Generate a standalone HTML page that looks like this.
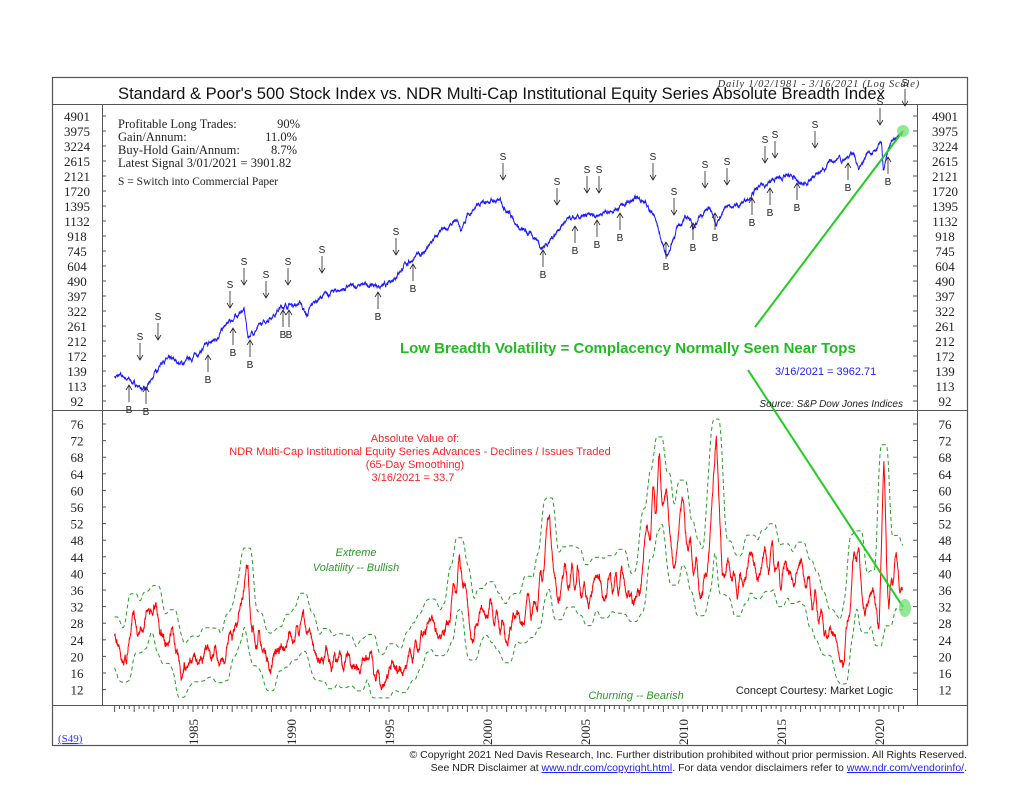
<!DOCTYPE html>
<html><head><meta charset="utf-8"><style>
body{margin:0;background:#fff;}
svg text{font-family:"Liberation Sans",sans-serif;}
svg text.sf,svg .sf text{font-family:"Liberation Serif",serif;}
</style></head><body>
<svg id="s" width="1024" height="791" xmlns="http://www.w3.org/2000/svg">
<rect x="52.5" y="77.5" width="915" height="668" fill="none" stroke="#555" stroke-width="1.2"/>
<line x1="52" y1="104.5" x2="968" y2="104.5" stroke="#555"/>
<line x1="102.5" y1="104" x2="102.5" y2="705" stroke="#555"/>
<line x1="917.5" y1="104" x2="917.5" y2="705" stroke="#555"/>
<line x1="52" y1="410.5" x2="968" y2="410.5" stroke="#555"/>
<line x1="52" y1="705.5" x2="968" y2="705.5" stroke="#555"/>
<text x="118" y="99" font-size="16.6" fill="#111">Standard &amp; Poor's 500 Stock Index vs. NDR Multi-Cap Institutional Equity Series Absolute Breadth Index</text>
<text x="920" y="87" class="sf" font-size="10.5" font-style="italic" text-anchor="end" fill="#333" letter-spacing="0.8">Daily 1/02/1981 - 3/16/2021 (Log Scale)</text>
<g class="sf" font-size="12.5" fill="#222">
<text x="118" y="128">Profitable Long Trades:</text><text x="300" y="128" text-anchor="end">90%</text>
<text x="118" y="141">Gain/Annum:</text><text x="297" y="141" text-anchor="end">11.0%</text>
<text x="118" y="154">Buy-Hold Gain/Annum:</text><text x="297" y="154" text-anchor="end">8.7%</text>
<text x="118" y="167">Latest Signal 3/01/2021 = 3901.82</text>
<text x="118" y="185" font-size="11.5">S = Switch into Commercial Paper</text>
</g>
<g id="ax"></g>
<path id="spx" fill="none" stroke="#1a1aff" stroke-width="1"/>
<path id="up" fill="none" stroke="#2a9a2a" stroke-width="1" stroke-dasharray="4,3"/>
<path id="lo" fill="none" stroke="#2a9a2a" stroke-width="1" stroke-dasharray="4,3"/>
<path id="br" fill="none" stroke="#f00" stroke-width="1"/>
<g id="sig" font-size="10" fill="#222"></g>
<line x1="755" y1="327" x2="903" y2="131" stroke="#22cc22" stroke-width="2"/>
<line x1="748" y1="370" x2="903" y2="607" stroke="#22cc22" stroke-width="2"/>
<circle cx="903" cy="131" r="6" fill="#66dd66" opacity="0.7"/>
<ellipse cx="905" cy="608" rx="6" ry="9" fill="#66dd66" opacity="0.7"/>
<text x="400" y="353" font-size="15" font-weight="bold" fill="#22bb22">Low Breadth Volatility = Complacency Normally Seen Near Tops</text>
<text x="775" y="375" font-size="11" fill="#2222ee">3/16/2021 =  3962.71</text>
<text x="903" y="407" font-size="10" font-style="italic" text-anchor="end" fill="#222">Source: S&amp;P Dow Jones Indices</text>
<g font-size="11" fill="#f22" text-anchor="middle">
<text x="415" y="442">Absolute Value of:</text>
<text x="420" y="455">NDR Multi-Cap Institutional Equity Series Advances - Declines / Issues Traded</text>
<text x="415" y="468">(65-Day Smoothing)</text>
<text x="413" y="481">3/16/2021 = 33.7</text>
</g>
<g font-size="11" font-style="italic" fill="#2a9a2a" text-anchor="middle">
<text x="356" y="556">Extreme</text><text x="356" y="571">Volatility -- Bullish</text>
<text x="636" y="699">Churning -- Bearish</text>
</g>
<text x="893" y="694" font-size="11" text-anchor="end" fill="#222">Concept Courtesy: Market Logic</text>
<text x="58" y="742" class="sf" font-size="11" fill="#33f" text-decoration="underline">(S49)</text>
<g font-size="10.5" fill="#222" text-anchor="end">
<text x="967" y="758">© Copyright 2021 Ned Davis Research, Inc.  Further distribution prohibited without prior permission.  All Rights Reserved.</text>
<text x="967" y="771">See NDR Disclaimer at <tspan fill="#22f" text-decoration="underline">www.ndr.com/copyright.html</tspan>. For data vendor disclaimers refer to <tspan fill="#22f" text-decoration="underline">www.ndr.com/vendorinfo/</tspan>.</text>
</g>
</svg>
<script>
var NS="http://www.w3.org/2000/svg",ax=document.getElementById('ax');
function el(t,a,p,txt){var e=document.createElementNS(NS,t);for(var k in a)e.setAttribute(k,a[k]);if(txt!=null)e.textContent=txt;(p||ax).appendChild(e);return e;}
function X(y){return 114.6+(y-1981)*19.6;}
var L0=Math.log10(4901);
function YU(v){return 116+(L0-Math.log10(v))/0.0909*15;}
function YL(v){return 424+(76-v)*16.6/4;}
var labs=[4901,3975,3224,2615,2121,1720,1395,1132,918,745,604,490,397,322,261,212,172,139,113,92];
labs.forEach(function(v,i){var y=116+i*15;
el('text',{x:77,y:y+5,'font-size':13,'text-anchor':'middle','class':'sf',fill:'#222'},null,v);
el('text',{x:945,y:y+5,'font-size':13,'text-anchor':'middle','class':'sf',fill:'#222'},null,v);
el('line',{x1:102,y1:y,x2:106,y2:y,stroke:'#555'});el('line',{x1:913,y1:y,x2:917,y2:y,stroke:'#555'});});
for(var v=12;v<=76;v+=4){var y=YL(v);
el('text',{x:77,y:y+5,'font-size':13,'text-anchor':'middle','class':'sf',fill:'#222'},null,v);
el('text',{x:945,y:y+5,'font-size':13,'text-anchor':'middle','class':'sf',fill:'#222'},null,v);
el('line',{x1:102,y1:y,x2:106,y2:y,stroke:'#555'});el('line',{x1:913,y1:y,x2:917,y2:y,stroke:'#555'});}
for(var yr=1981;yr<=2021;yr++){for(var q=0;q<4;q++){var x=X(yr+q/4);if(x>905)break;
el('line',{x1:x,y1:705,x2:x,y2:q==0?712:709,stroke:'#555'});}
if(yr%5==0){var x=X(yr);el('text',{transform:'translate('+(x+5)+',745) rotate(-90)','font-size':13,'class':'sf',fill:'#222'},null,yr);}}
var seed=7;function rnd(){seed=(seed*16807)%2147483647;return seed/2147483647;}
function interp(k,t){for(var i=0;i<k.length-1;i++){if(t<=k[i+1][0]){var f=(t-k[i][0])/(k[i+1][0]-k[i][0]);return k[i][1]+(k[i+1][1]-k[i][1])*f;}}return k[k.length-1][1];}
var sk=[[1981,130],[1981.5,128],[1982.6,105],[1983.5,165],[1984.5,155],[1985,170],[1986,210],[1987.6,330],[1987.8,225],[1988.5,265],[1989.6,345],[1990.5,360],[1990.8,300],[1991.2,370],[1992,415],[1993,450],[1994,465],[1994.9,455],[1995.5,560],[1996,640],[1996.9,750],[1997.5,930],[1998.5,1130],[1998.7,980],[1999,1230],[1999.5,1380],[2000.2,1510],[2000.7,1480],[2001.2,1250],[2001.7,1000],[2002.5,900],[2002.8,780],[2003.2,860],[2004,1130],[2005,1190],[2006,1280],[2007,1420],[2007.8,1560],[2008.5,1250],[2008.9,850],[2009.2,690],[2009.8,1080],[2010.3,1200],[2010.5,1050],[2011.3,1360],[2011.7,1130],[2012.3,1400],[2012.9,1420],[2013.5,1650],[2014,1840],[2014.9,2060],[2015.5,2110],[2016.1,1860],[2016.8,2150],[2017,2260],[2018,2800],[2018.1,2600],[2018.7,2920],[2018.98,2350],[2019.5,2950],[2019.95,3230],[2020.13,3380],[2020.22,2240],[2020.5,3100],[2020.9,3600],[2021.2,3960]];
var d='',n=0,nz=0;
for(var t=1981;t<=2021.2;t+=0.01){nz=nz*0.9+(rnd()-0.5)*0.035;var v=interp(sk,t)*Math.exp(nz);d+=(n++?'L':'M')+X(t).toFixed(1)+','+YU(v).toFixed(1);}
document.getElementById('spx').setAttribute('d',d);
var bk=[[1981,27],[1981.3,22],[1981.6,18],[1981.9,28],[1982.3,22],[1982.7,30],[1983,32],[1983.3,22],[1984,24],[1984.5,16],[1985,20],[1986,22],[1986.5,20],[1987.3,28],[1987.6,30],[1987.8,41],[1988,22],[1988.5,25],[1989,20],[1990,24],[1990.5,30],[1991,22],[1992,20],[1993,20],[1993.5,14],[1994,20],[1994.7,12],[1995,18],[1995.5,15],[1996,20],[1997,28],[1997.8,24],[1998.7,41],[1999.2,22],[1999.8,30],[2000.3,32],[2001,28],[2002.5,34],[2002.7,40],[2003.2,52],[2003.6,36],[2004,40],[2005,34],[2006,36],[2007,38],[2007.5,30],[2008,45],[2008.8,64],[2009.5,44],[2010,50],[2010.5,42],[2011,35],[2011.7,68],[2012,40],[2013,38],[2014,44],[2015,40],[2016,45],[2016.5,38],[2017,34],[2017.5,30],[2018,25],[2018.2,22],[2018.8,45],[2019.3,28],[2019.7,36],[2020,26],[2020.25,63],[2020.5,30],[2020.8,42],[2021.2,33.7]];
var ts=[],vs=[];nz=0;var nz2=0;
for(var t=1981;t<=2021.2;t+=0.01){nz2=nz2*0.98+(rnd()-0.5)*0.55;nz=nz*0.5+(rnd()-0.5)*0.6;ts.push(t);vs.push(Math.max(11,interp(bk,t)*(1+0.07*Math.sin(t*13.5+2.5*Math.sin(t*3.1)))+nz2*2.2+nz));}
function pth(arr){var s='';for(var i=0;i<arr.length;i++)s+=(i?'L':'M')+X(ts[i]).toFixed(1)+','+YL(arr[i]).toFixed(1);return s;}
document.getElementById('br').setAttribute('d',pth(vs));
function smooth(a,w){var o=[];for(var i=0;i<a.length;i++){var s=0,c=0;for(var j=Math.max(0,i-w);j<=Math.min(a.length-1,i+w);j++){s+=a[j];c++;}o.push(s/c);}return o;}
var W=22,mx=[],mn=[];
for(var i=0;i<vs.length;i++){var a=-1e9,b=1e9;for(var j=Math.max(0,i-W);j<=Math.min(vs.length-1,i+W);j++){a=Math.max(a,vs[j]);b=Math.min(b,vs[j]);}mx.push(a);mn.push(b);}
var up=smooth(mx,10).map(function(v){return v+4;}),lo=smooth(mn,10).map(function(v){return Math.max(10,v-4);});
document.getElementById('up').setAttribute('d',pth(up));document.getElementById('lo').setAttribute('d',pth(lo));
var sig=document.getElementById('sig');
var S=[[140,360],[158,340],[230,308],[244,285],[266,298],[288,285],[322,273],[396,255],[503,180],[557,205],[587,193],[599,193],[653,180],[674,215],[705,188],[727,185],[765,163],[775,158],[815,148],[880,125],[905,106]];
var B=[[129,405],[146,407],[208,375],[233,348],[250,360],[283,330],[289,330],[378,312],[413,284],[543,270],[575,246],[597,240],[620,233],[666,262],[693,243],[715,233],[752,218],[770,208],[797,203],[848,183],[888,177]];
S.forEach(function(p){var x=p[0],y=p[1];el('text',{x:x,y:y-20,'text-anchor':'middle'},sig,'S');
el('path',{d:'M'+x+','+(y-17)+'V'+y+'M'+(x-3)+','+(y-5)+'L'+x+','+y+'L'+(x+3)+','+(y-5),fill:'none',stroke:'#222','stroke-width':0.8},sig);});
B.forEach(function(p){var x=p[0],y=p[1];el('text',{x:x,y:y+8,'text-anchor':'middle'},sig,'B');
el('path',{d:'M'+x+','+(y-20)+'V'+(y-3)+'M'+(x-3)+','+(y-15)+'L'+x+','+(y-20)+'L'+(x+3)+','+(y-15),fill:'none',stroke:'#222','stroke-width':0.8},sig);});
</script>
</body></html>
